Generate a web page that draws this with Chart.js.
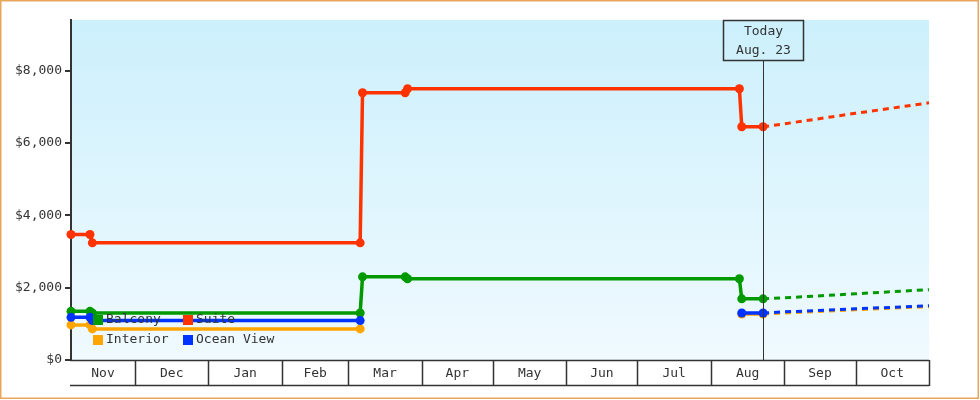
<!DOCTYPE html>
<html>
<head>
<meta charset="utf-8">
<script src="https://cdn.jsdelivr.net/npm/chart.js@4"></script>
<style>
  html, body { margin: 0; padding: 0; background: #fff; }
  #wrap { width: 980px; height: 400px; }
</style>
</head>
<body>
<div id="wrap"><canvas id="priceChart" width="980" height="400"></canvas></div>
<script>
// fechas de los cambios de precio
const dates = ['2022-11-04', '2022-11-12', '2022-11-13', '2023-03-06', '2023-03-07',
               '2023-03-25', '2023-03-26', '2023-08-13', '2023-08-14', '2023-08-23'];
const suite     = [3470, 3470, 3240, 3240, 7390, 7390, 7500, 7500, 6450, 6450];
const balcony   = [1345, 1345, 1300, 1300, 2300, 2300, 2245, 2245, 1690, 1690];
const interior  = [970, 970, 860, 860, null, null, null, null, 1270, 1270];
const oceanView = [1180, 1180, 1090, 1090, null, null, null, null, 1300, 1300];

// pronóstico (línea punteada)
const forecastDates     = ['2023-08-23', '2023-09-01', '2023-10-01', '2023-11-01'];
const suiteForecast     = [6450, 6530, 6820, 7110];
const balconyForecast   = [1690, 1720, 1830, 1945];
const interiorForecast  = [1270, 1300, 1390, 1475];
const oceanViewForecast = [1300, 1330, 1415, 1500];

const monthLabels = ['Nov', 'Dec', 'Jan', 'Feb', 'Mar', 'Apr', 'May', 'Jun', 'Jul', 'Aug', 'Sep', 'Oct'];
const monthStarts = ['2022-11-01', '2022-12-01', '2023-01-01', '2023-02-01', '2023-03-01', '2023-04-01',
                     '2023-05-01', '2023-06-01', '2023-07-01', '2023-08-01', '2023-09-01', '2023-10-01', '2023-11-01'];
const yTicks = [0, 2000, 4000, 6000, 8000];
const yMax = 9400;
const today = '2023-08-23';
const todayText = ['Today', 'Aug. 23'];

const FONT = '"DejaVu Sans Mono", "Liberation Mono", monospace';
const INK = '#333333';

// días desde el 1 de noviembre de 2022
function dayOf(str) {
    const p = str.split('-').map(Number);
    return (Date.UTC(p[0], p[1] - 1, p[2]) - Date.UTC(2022, 10, 1)) / 86400000;
}

function pts(ds, vals) {
    return ds.map((d, i) => ({ x: dayOf(d), y: vals[i] }));
}

const xMin = dayOf(dates[0]);
const xMax = dayOf(monthStarts[monthStarts.length - 1]);
const boundaries = monthStarts.map(dayOf);
const mids = monthLabels.map((m, i) => (Math.max(boundaries[i], xMin) + boundaries[i + 1]) / 2);

const series = [
    { label: 'Balcony', color: '#009900', data: balcony, forecast: balconyForecast },
    { label: 'Suite', color: '#ff3300', data: suite, forecast: suiteForecast },
    { label: 'Interior', color: '#ffa500', data: interior, forecast: interiorForecast },
    { label: 'Ocean View', color: '#0033ff', data: oceanView, forecast: oceanViewForecast }
];

// orden de dibujo: el azul encima del naranja
const drawOrder = { 'Ocean View': 0, 'Interior': 1, 'Balcony': 2, 'Suite': 3 };

const datasets = [];
series.forEach(s => {
    datasets.push({
        label: s.label,
        data: pts(dates, s.data),
        borderColor: s.color,
        backgroundColor: s.color,
        borderWidth: 3.5,
        pointRadius: 4.5,
        pointHoverRadius: 4.5,
        pointBorderWidth: 0,
        pointBackgroundColor: s.color,
        spanGaps: false,
        tension: 0,
        clip: false,
        order: drawOrder[s.label]
    });
    datasets.push({
        label: s.label + ' forecast',
        data: pts(forecastDates, s.forecast),
        borderColor: s.color,
        borderWidth: 3,
        borderDash: [6, 5],
        pointRadius: 0,
        tension: 0,
        order: drawOrder[s.label] + 0.5
    });
});

// fondo, borde naranja y degradado del área
const backgroundPlugin = {
    id: 'backgroundPlugin',
    beforeDraw(chart) {
        const ctx = chart.ctx;
        const a = chart.chartArea;
        ctx.save();
        ctx.fillStyle = '#ffffff';
        ctx.fillRect(0, 0, chart.width, chart.height);
        const g = ctx.createLinearGradient(0, a.top, 0, a.bottom);
        g.addColorStop(0, '#ccf0fc');
        g.addColorStop(1, '#f0faff');
        ctx.fillStyle = g;
        ctx.fillRect(a.left, a.top, a.right - a.left, a.bottom - a.top);
        ctx.strokeStyle = '#e8a55c';
        ctx.lineWidth = 1.5;
        ctx.strokeRect(0.75, 0.75, chart.width - 2.5, chart.height - 2.5);
        ctx.restore();
    },
    afterDraw(chart) {
        // celdas de los meses bajo el eje x
        const ctx = chart.ctx;
        const a = chart.chartArea;
        const xs = chart.scales.x;
        ctx.save();
        ctx.strokeStyle = INK;
        ctx.lineWidth = 1.5;
        ctx.beginPath();
        ctx.moveTo(a.left - 1, a.bottom + 0.5);
        ctx.lineTo(a.right, a.bottom + 0.5);
        ctx.moveTo(a.left - 1, a.bottom + 25.5);
        ctx.lineTo(a.right, a.bottom + 25.5);
        boundaries.forEach(b => {
            if (b <= xMin) return;
            const px = Math.round(xs.getPixelForValue(b)) + 0.5;
            ctx.moveTo(px, a.bottom);
            ctx.lineTo(px, a.bottom + 26);
        });
        ctx.stroke();
        ctx.restore();
    }
};

// línea y caja de "Today"
const todayPlugin = {
    id: 'todayPlugin',
    afterDatasetsDraw(chart) {
        const ctx = chart.ctx;
        const a = chart.chartArea;
        const px = Math.round(chart.scales.x.getPixelForValue(dayOf(today))) + 0.5;
        const boxW = 80, boxH = 40;
        ctx.save();
        ctx.strokeStyle = INK;
        ctx.lineWidth = 1;
        ctx.beginPath();
        ctx.moveTo(px, a.top + boxH);
        ctx.lineTo(px, a.bottom);
        ctx.stroke();
        ctx.lineWidth = 1.5;
        ctx.strokeRect(px - boxW / 2, a.top + 0.5, boxW, boxH);
        ctx.fillStyle = INK;
        ctx.font = '13px ' + FONT;
        ctx.textAlign = 'center';
        ctx.textBaseline = 'middle';
        ctx.fillText(todayText[0], px, a.top + 12);
        ctx.fillText(todayText[1], px, a.top + 31);
        ctx.restore();
    }
};

// leyenda en dos columnas dentro del área
const legendPlugin = {
    id: 'gridLegend',
    afterDatasetsDraw(chart) {
        const ctx = chart.ctx;
        const a = chart.chartArea;
        ctx.save();
        ctx.font = '13px ' + FONT;
        ctx.textBaseline = 'middle';
        ctx.textAlign = 'left';
        series.forEach((s, i) => {
            const col = i % 2, row = Math.floor(i / 2);
            const x = a.left + 22 + col * 90;
            const y = a.bottom - 40 + row * 20;
            ctx.fillStyle = s.color;
            ctx.fillRect(x, y - 5, 10, 10);
            ctx.fillStyle = INK;
            ctx.fillText(s.label, x + 13, y);
        });
        ctx.restore();
    }
};

const priceChart = new Chart(document.getElementById('priceChart'), {
    type: 'line',
    data: { datasets: datasets },
    options: {
        responsive: false,
        animation: false,
        layout: { padding: { top: 20, right: 51, bottom: 0, left: 0 } },
        plugins: {
            legend: { display: false },
            tooltip: { enabled: false }
        },
        scales: {
            x: {
                type: 'linear',
                min: xMin,
                max: xMax,
                afterBuildTicks: scale => { scale.ticks = mids.map(v => ({ value: v })); },
                afterFit: scale => { scale.height = 40; },
                grid: { display: false, drawTicks: false, tickLength: 0 },
                border: { display: false },
                ticks: {
                    autoSkip: false,
                    maxRotation: 0,
                    padding: 6,
                    color: INK,
                    font: { family: FONT, size: 13 },
                    callback: (v, i) => monthLabels[i]
                }
            },
            y: {
                min: 0,
                max: yMax,
                afterBuildTicks: scale => { scale.ticks = yTicks.map(v => ({ value: v })); },
                afterFit: scale => { scale.width = 71; },
                grid: { drawOnChartArea: false, color: INK, lineWidth: 2, tickLength: 6 },
                border: { display: true, color: INK, width: 2 },
                ticks: {
                    padding: 3,
                    color: INK,
                    font: { family: FONT, size: 13 },
                    callback: v => '$' + v.toLocaleString('en-US')
                }
            }
        }
    },
    plugins: [backgroundPlugin, todayPlugin, legendPlugin]
});
</script>
</body>
</html>
